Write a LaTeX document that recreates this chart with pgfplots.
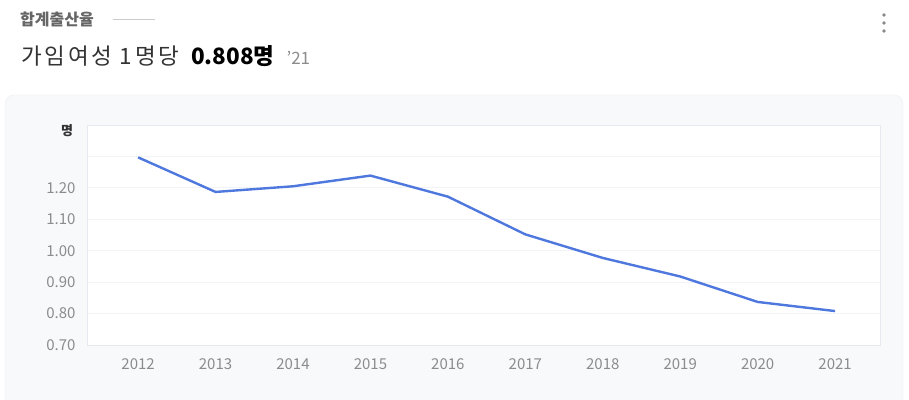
\documentclass[border=0pt]{standalone}
\usepackage{fontspec}
\setmainfont{Noto Sans CJK KR}
\usepackage{pgfplots}
\pgfplotsset{compat=1.18}
\definecolor{cardbg}{HTML}{F8F9FB}
\definecolor{cardborder}{HTML}{ECEEF2}
\definecolor{axisborder}{HTML}{E6EAF0}
\definecolor{gridc}{HTML}{F1F3F6}
\definecolor{tickgray}{HTML}{8C8C8C}
\definecolor{titlegray}{HTML}{666666}
\definecolor{darktext}{HTML}{333333}
\definecolor{lineblue}{HTML}{4F78DE}
\definecolor{rulegray}{HTML}{CCCCCC}
\definecolor{dotgray}{HTML}{888888}
\begin{document}
\begin{tikzpicture}[x=1pt,y=1pt]
\useasboundingbox (0,0) rectangle (909,399);
\fill[white] (0,0) rectangle (909,399);
\begin{scope}
\clip (0,0) rectangle (909,399);
\draw[cardborder, fill=cardbg, rounded corners=9pt] (5,-20) rectangle (903,304);
\end{scope}
% header
\node[anchor=west, inner sep=0, font=\fontsize{16}{18}\selectfont\bfseries, text=titlegray] at (20,380) {합계출산율};
\draw[rulegray, line width=0.8pt] (113,380) -- (155,380);
\node[anchor=base west, inner sep=0, text=darktext, font=\fontsize{22.5}{26}\selectfont] at (21,334) {{\addfontfeature{LetterSpace=12}가임여성 1명당}\hspace{12pt}{\bfseries\color{black}0.808명}\hspace{12pt}{\fontsize{17}{20}\selectfont\color{tickgray}'21}};
\foreach \yy in {384,376,368} {\fill[dotgray] (884,\yy) circle (1.8);}
% unit label
\node[inner sep=0, font=\fontsize{13}{15}\selectfont\bfseries, text=darktext] at (67,268) {명};
\begin{axis}[
  at={(87pt,54pt)}, anchor=south west,
  scale only axis, width=793pt, height=220pt,
  xmin=-0.66, xmax=9.58, ymin=0.7, ymax=1.4,
  xtick={0,...,9},
  xticklabels={2012,2013,2014,2015,2016,2017,2018,2019,2020,2021},
  ytick={0.7,0.8,0.9,1.0,1.1,1.2,1.3},
  yticklabels={0.70,0.80,0.90,1.00,1.10,1.20,{}},
  axis background/.style={fill=white},
  axis line style={draw=axisborder},
  xmajorgrids=false, ymajorgrids=true,
  major grid style={draw=gridc, line width=0.8pt},
  major tick length=0pt,
  tick style={draw=none},
  ticklabel style={font=\fontsize{15}{17}\selectfont, text=tickgray},
  xticklabel style={yshift=-10pt},
  yticklabel style={xshift=-8pt},
]
\addplot[lineblue, line width=2.4pt, line join=round, no marks] coordinates {
 (0,1.297) (1,1.187) (2,1.205) (3,1.239) (4,1.172) (5,1.052) (6,0.977) (7,0.918) (8,0.837) (9,0.808)
};
\end{axis}
\end{tikzpicture}
\end{document}
